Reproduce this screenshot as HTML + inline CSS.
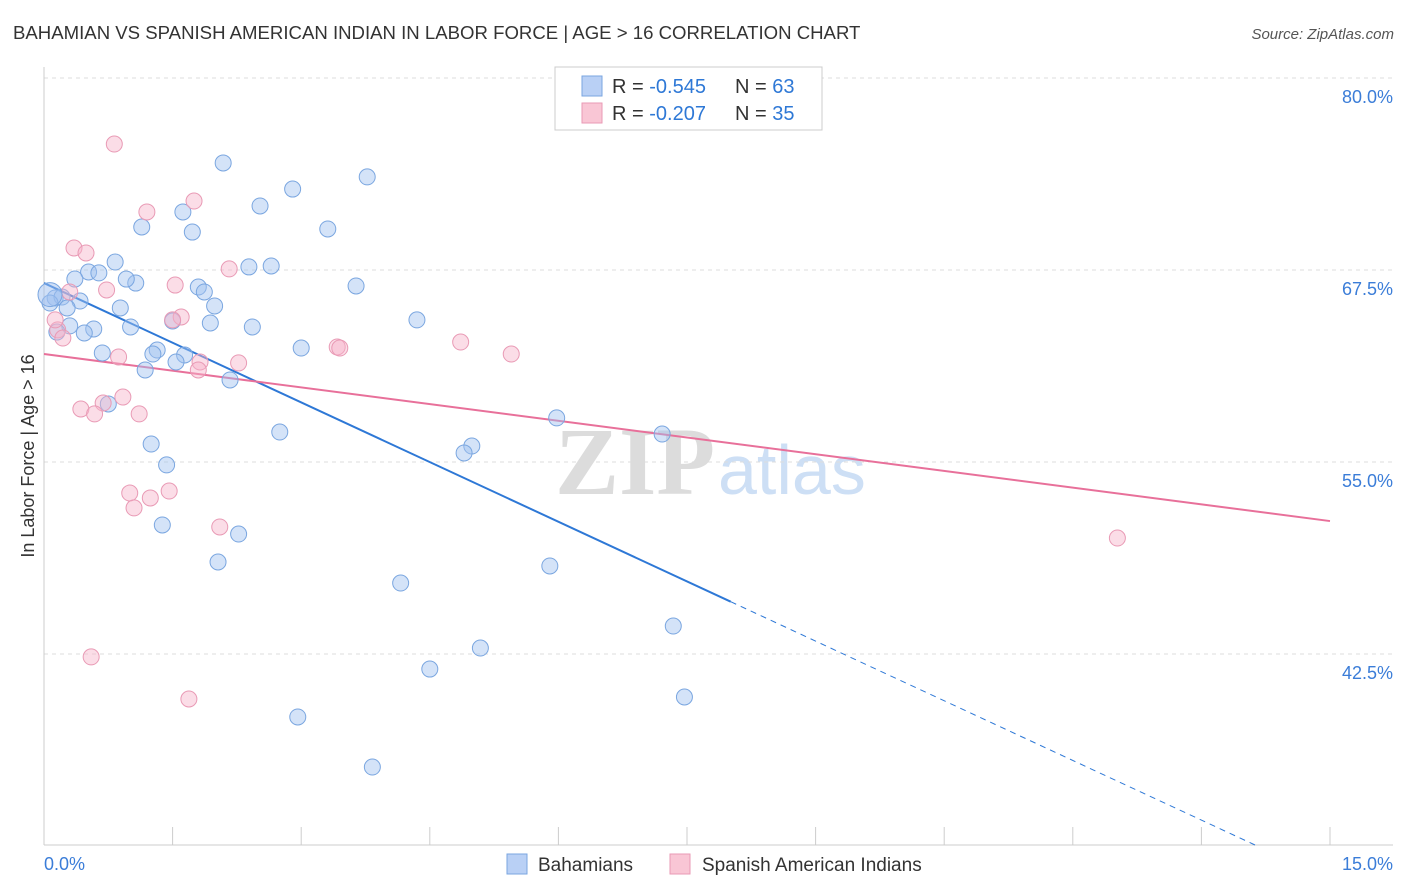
<!DOCTYPE html>
<html><head><meta charset="utf-8"><style>
body{margin:0;background:#fff;font-family:"Liberation Sans",sans-serif;}
svg{display:block}
</style></head><body>
<svg id="chart" width="1406" height="892" xmlns="http://www.w3.org/2000/svg">
<text x="13" y="39" font-size="18.6" fill="#333">BAHAMIAN VS SPANISH AMERICAN INDIAN IN LABOR FORCE | AGE &gt; 16 CORRELATION CHART</text>
<text x="1394" y="39" font-size="15" fill="#555" text-anchor="end" font-style="italic">Source: ZipAtlas.com</text>
<g>
<text x="555" y="494" font-size="96" fill="#dcdcdc" font-family="Liberation Serif,serif" font-weight="bold">ZIP</text>
<text x="718" y="494" font-size="70" fill="#cddff5">atlas</text>
</g>
<g id="grid"></g><g id="axes"></g><g id="lines"></g><g id="points"></g>
<text transform="translate(34,456) rotate(-90)" font-size="18" fill="#333" text-anchor="middle">In Labor Force | Age &gt; 16</text>
<g>
<rect x="555" y="67" width="267" height="63" fill="#fff" stroke="#ccc"/>
<rect x="582" y="76" width="20" height="20" fill="#b9d0f5" stroke="#7aa6e0"/>
<rect x="582" y="103" width="20" height="20" fill="#f9c6d5" stroke="#e99ab5"/>
<text x="612" y="93" font-size="20" fill="#333">R = <tspan fill="#2e78d6">-0.545</tspan></text>
<text x="735" y="93" font-size="20" fill="#333">N = <tspan fill="#2e78d6">63</tspan></text>
<text x="612" y="120" font-size="20" fill="#333">R = <tspan fill="#2e78d6">-0.207</tspan></text>
<text x="735" y="120" font-size="20" fill="#333">N = <tspan fill="#2e78d6">35</tspan></text>
</g>
<g>
<rect x="507" y="854" width="20" height="20" fill="#b9d0f5" stroke="#7aa6e0"/>
<text x="538" y="871" font-size="19" fill="#333">Bahamians</text>
<rect x="670" y="854" width="20" height="20" fill="#f9c6d5" stroke="#e99ab5"/>
<text x="702" y="871" font-size="19" fill="#333">Spanish American Indians</text>
</g>
</svg>
<script>
const yTicks=[80,67.5,55,42.5];
const yTickLabels=["80.0%","67.5%","55.0%","42.5%"];
const xTickLabels=["0.0%","15.0%"];
const blueX=[2.09,3.77,2.90,1.62,2.52,1.14,1.73,3.31,0.83,0.52,0.64,0.36,1.07,0.96,2.39,2.65,1.80,1.87,3.64,0.13,0.21,0.42,0.27,0.89,1.99,1.50,1.94,1.01,2.43,4.35,0.30,0.58,0.15,0.47,0.68,1.32,1.27,1.64,1.54,1.18,3.00,2.17,0.75,5.98,2.75,4.99,4.90,7.21,1.25,1.43,1.38,2.27,2.03,5.90,4.16,7.34,5.09,4.50,7.47,2.96,3.83,0.07];
const blueY=[74.47,73.56,72.77,71.28,71.67,70.30,69.97,70.17,68.02,67.37,67.31,66.91,66.65,66.91,67.70,67.76,66.39,66.07,66.46,65.68,65.74,65.48,65.03,65.03,65.16,64.18,64.05,63.79,63.79,64.25,63.86,63.66,63.46,63.40,62.10,62.29,62.03,61.97,61.51,60.99,62.42,60.34,58.78,57.87,56.95,56.04,55.59,56.82,56.17,54.81,50.90,50.31,48.49,48.23,47.12,44.32,42.89,41.52,39.70,38.40,35.14,65.35];
const pinkX=[0.82,1.75,1.20,0.35,0.49,2.16,1.53,0.73,0.30,1.60,1.50,0.16,0.22,4.86,3.42,3.45,5.45,0.87,1.82,2.27,1.80,0.92,0.69,0.43,0.59,1.11,1.00,1.24,1.46,1.05,2.05,12.52,0.55,1.69,0.13];
const pinkY=[75.70,71.99,71.28,68.93,68.61,67.57,66.52,66.20,66.07,64.44,64.25,63.60,63.07,62.81,62.49,62.42,62.03,61.84,61.51,61.45,60.99,59.23,58.84,58.45,58.13,58.13,52.98,52.66,53.11,52.01,50.77,50.05,42.31,39.57,64.25];
const blueFit=[66.65,-2.59];
const pinkFit=[62.03,-0.725];
const NS="http://www.w3.org/2000/svg";
const X0=44,X1=1330,Y0=78;
function sx(v){return X0+(v/15)*(X1-X0);}
function sy(v){return Y0+(80-v)/12.5*192;}
function mk(tag,attrs,parent){const e=document.createElementNS(NS,tag);for(const k in attrs)e.setAttribute(k,attrs[k]);parent.appendChild(e);return e;}
const grid=document.getElementById('grid'),axes=document.getElementById('axes'),lines=document.getElementById('lines'),pts=document.getElementById('points');
yTicks.forEach((t,i)=>{
 const l=mk('line',{x1:44,x2:1393,y1:sy(t),y2:sy(t),stroke:'#ddd','stroke-dasharray':'4,4'},grid);
 
 
 const tx=mk('text',{x:1393,y:sy(t)+25,'font-size':18,fill:'#3b7dd8','text-anchor':'end'},axes);
 tx.textContent=yTickLabels[i];
 
 
});
let a=mk('line',{x1:44,x2:44,y1:67,y2:845,stroke:'#ccc'},axes);


a=mk('line',{x1:44,x2:1393,y1:845,y2:845,stroke:'#ccc'},axes);


for(let i=1;i<=10;i++){
 const t=mk('line',{x1:sx(i*1.5),x2:sx(i*1.5),y1:827,y2:845,stroke:'#ccc'},axes);
 
 
}
[[0,44,'start'],[1,1393,'end']].forEach(([i,x,an])=>{
 const t=mk('text',{x:x,y:870,'font-size':18,fill:'#3b7dd8','text-anchor':an},axes);
 t.textContent=xTickLabels[i];
 
 
});
function addPts(xs,ys,fill,stroke,name){
 xs.forEach((x,i)=>{
  const c=mk('circle',{cx:sx(x),cy:sy(ys[i]),r:8,fill:fill,stroke:stroke,'stroke-width':1},pts);
  
  
 });
}
addPts(blueX,blueY,'rgba(160,192,240,0.45)','#7aa6e0','bahamian-point');
addPts(pinkX,pinkY,'rgba(246,180,202,0.45)','#e99ab5','spanish-american-indian-point');
const bigc=mk('circle',{cx:sx(0.07),cy:sy(65.9),r:12,fill:'rgba(160,192,240,0.5)',stroke:'#7aa6e0'},pts);


const bEnd=8.01, bDashEnd=(30-blueFit[0])/blueFit[1];
let ln=mk('line',{x1:sx(0),y1:sy(blueFit[0]),x2:sx(bEnd),y2:sy(blueFit[0]+blueFit[1]*bEnd),stroke:'#2e78d6','stroke-width':2},lines);


ln=mk('line',{x1:sx(bEnd),y1:sy(blueFit[0]+blueFit[1]*bEnd),x2:sx(bDashEnd),y2:sy(30),stroke:'#2e78d6','stroke-width':1,'stroke-dasharray':'6,5'},lines);


ln=mk('line',{x1:sx(0),y1:sy(pinkFit[0]),x2:sx(15),y2:sy(pinkFit[0]+pinkFit[1]*15),stroke:'#e8709a','stroke-width':2},lines);


</script>
</body></html>
